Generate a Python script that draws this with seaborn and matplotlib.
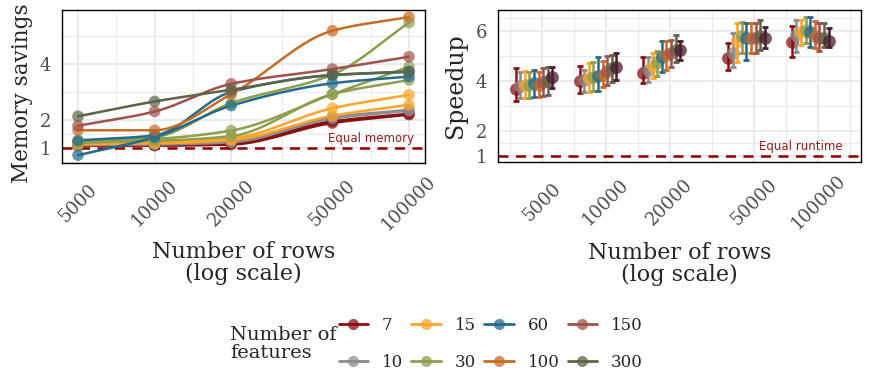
import numpy as np
import pandas as pd
import seaborn as sns
import matplotlib.pyplot as plt
import matplotlib.transforms as mtransforms
from matplotlib.lines import Line2D
from matplotlib.colors import to_rgba
from matplotlib.ticker import FixedLocator, NullFormatter

# --- data -------------------------------------------------------------
rows = [5000, 10000, 20000, 50000, 100000]
features = [7, 10, 15, 30, 60, 100, 150, 300]
palette = ["#8B1014", "#8C8C8C", "#FFA42B", "#8E9E4C",
           "#236B8E", "#C96B25", "#A0514B", "#5D6549"]
extra_color = "#4B1D2E"   # 9th series on the speedup panel (not in legend)

# memory savings, one line per row of the table (columns = rows)
mem_features = [7, 7, 10, 10, 15, 15, 30, 30, 30, 60, 60, 100, 150, 300]
mem_savings = np.array([
    [1.08, 1.08, 1.12, 1.89, 2.19],
    [1.10, 1.10, 1.16, 1.95, 2.22],
    [1.10, 1.12, 1.20, 2.05, 2.33],
    [1.12, 1.14, 1.24, 2.10, 2.36],
    [1.13, 1.16, 1.28, 2.15, 2.54],
    [1.16, 1.20, 1.34, 2.42, 2.90],
    [1.18, 1.25, 1.42, 2.92, 3.43],
    [1.22, 1.32, 1.62, 2.92, 3.90],
    [1.20, 1.38, 2.60, 3.62, 5.48],
    [0.74, 1.38, 2.51, 3.31, 3.55],
    [1.27, 1.45, 3.00, 3.60, 3.72],
    [1.63, 1.63, 2.92, 5.19, 5.68],
    [1.79, 2.30, 3.29, 3.82, 4.26],
    [2.13, 2.66, 3.08, 3.61, 3.73],
])

# speedup: rows of the table = number of rows, columns = series
speed_series = features + ["extra"]
speed_mean = np.array([
    [3.68, 3.80, 3.85, 3.85, 3.90, 3.85, 3.95, 4.00, 4.15],
    [4.00, 4.05, 4.10, 4.15, 4.20, 4.25, 4.40, 4.50, 4.55],
    [4.30, 4.45, 4.60, 4.75, 4.95, 5.05, 5.10, 5.25, 5.25],
    [4.93, 5.10, 5.60, 5.80, 5.70, 5.70, 5.70, 5.80, 5.70],
    [5.55, 5.85, 5.95, 6.05, 5.95, 5.80, 5.70, 5.70, 5.60],
])
speed_lo = np.array([
    [3.20, 3.30, 3.30, 3.30, 3.35, 3.35, 3.40, 3.45, 3.70],
    [3.50, 3.55, 3.55, 3.60, 3.60, 3.75, 3.85, 3.95, 4.05],
    [3.90, 3.95, 4.10, 4.20, 4.35, 4.45, 4.55, 4.75, 4.85],
    [4.45, 4.55, 4.75, 5.10, 4.85, 5.10, 5.10, 5.25, 5.30],
    [4.95, 5.15, 5.45, 5.50, 5.35, 5.30, 5.20, 5.35, 5.35],
])
speed_hi = np.array([
    [4.50, 4.35, 4.40, 4.35, 4.45, 4.35, 4.50, 4.55, 4.55],
    [4.60, 4.45, 4.70, 4.75, 4.95, 4.80, 5.00, 5.05, 5.10],
    [4.95, 4.95, 5.10, 5.20, 5.60, 5.60, 5.65, 5.85, 5.60],
    [5.50, 5.90, 6.30, 6.35, 6.30, 6.30, 6.30, 6.45, 6.15],
    [6.20, 6.45, 6.45, 6.55, 6.55, 6.40, 6.30, 6.30, 6.10],
])


def pchip(x, y, xn):
    """monotone cubic curve through the points, only used to draw the lines"""
    h = np.diff(x)
    d = np.diff(y) / h
    m = np.zeros_like(y)
    m[0], m[-1] = d[0], d[-1]
    for k in range(1, len(x) - 1):
        if d[k - 1] * d[k] > 0:
            w1 = 2 * h[k] + h[k - 1]
            w2 = h[k] + 2 * h[k - 1]
            m[k] = (w1 + w2) / (w1 / d[k - 1] + w2 / d[k])
    idx = np.clip(np.searchsorted(x, xn) - 1, 0, len(x) - 2)
    t = (xn - x[idx]) / h[idx]
    h00 = 2 * t**3 - 3 * t**2 + 1
    h10 = t**3 - 2 * t**2 + t
    h01 = -2 * t**3 + 3 * t**2
    h11 = t**3 - t**2
    return (h00 * y[idx] + h10 * h[idx] * m[idx]
            + h01 * y[idx + 1] + h11 * h[idx] * m[idx + 1])


def style_axes(ax, xlim, ylim, yticks, yminor):
    ax.set_xscale("log")
    ax.set_xlim(*xlim)
    ax.set_ylim(*ylim)
    ax.set_xticks(rows)
    ax.set_xticklabels([str(r) for r in rows], rotation=45, ha="center", va="center")
    lr = np.log10(rows)
    mid = np.r_[lr[0] - (lr[1] - lr[0]) / 2, (lr[:-1] + lr[1:]) / 2, lr[-1] + (lr[1] - lr[0]) / 2]
    ax.xaxis.set_minor_locator(FixedLocator(10 ** mid))
    ax.xaxis.set_minor_formatter(NullFormatter())
    ax.set_yticks(yticks)
    ax.yaxis.set_minor_locator(FixedLocator(yminor))
    ax.grid(which="major", color="#EBEBEB", lw=1.4)
    ax.grid(which="minor", color="#EBEBEB", lw=0.8)
    ax.set_axisbelow(True)
    ax.tick_params(which="both", length=0, labelsize=13, labelcolor="#4D4D4D")
    ax.tick_params(axis="x", pad=29)
    ax.tick_params(axis="y", pad=8)
    for sp in ax.spines.values():
        sp.set_visible(True)
        sp.set_color("black")
        sp.set_linewidth(1.0)
    ax.set_xlabel("Number of rows\n(log scale)", fontsize=16, linespacing=1.0)


sns.set_theme(style="white")
plt.rcParams["font.family"] = ["DejaVu Serif"]

fig = plt.figure(figsize=(8.72, 3.87), dpi=100)
ax1 = fig.add_axes([0.0711, 0.5788, 0.4163, 0.3953])
ax2 = fig.add_axes([0.5711, 0.5814, 0.4163, 0.3928])
colors = dict(zip(features, palette))

# --- memory savings panel ---------------------------------------------
mem_df = pd.DataFrame(mem_savings, columns=rows)
mem_df["features"] = mem_features
mem_long = mem_df.melt(id_vars="features", var_name="rows", value_name="savings")

ax1.axhline(1, color="#8B0000", lw=1.8, ls=(0, (4, 3)), zorder=1)
lx = np.log10(rows)
xs = np.linspace(lx[0], lx[-1], 200)
for f, vals in zip(mem_features, mem_savings):
    ax1.plot(10 ** xs, pchip(lx, vals, xs), color=colors[f], lw=1.8, zorder=2)
sns.scatterplot(data=mem_long, x="rows", y="savings", hue="features", palette=colors,
                s=70, alpha=0.7, linewidth=0, legend=False, ax=ax1, zorder=3)
style_axes(ax1, (4325, 115600), (0.46, 5.93), [1, 2, 4], [0.5, 1.5, 3, 5])
ax1.set_ylabel("Memory savings", fontsize=15.5)
ax1.yaxis.set_label_coords(-0.08, 0.455)
ax1.xaxis.set_label_coords(0.5, -0.51)
tr1 = mtransforms.blended_transform_factory(ax1.transAxes, ax1.transData)
ax1.text(0.97, 1.1, "Equal memory", transform=tr1, ha="right", va="bottom",
         fontsize=8.5, color="#9B1B1B", family=["DejaVu Sans"])

# --- speedup panel -----------------------------------------------------
ax2.axhline(1, color="#8B0000", lw=1.8, ls=(0, (4, 3)), zorder=1)
all_colors = palette + [extra_color]
for j, name in enumerate(speed_series):
    shift = 2 ** ((j - 4) * 0.072 - 0.125)
    xd = np.array(rows) * shift
    sns.scatterplot(x=xd, y=speed_mean[:, j], color=all_colors[j], s=85, alpha=0.75,
                    linewidth=0, legend=False, ax=ax2, zorder=3 + j)
    ax2.errorbar(xd, speed_mean[:, j],
                 yerr=[speed_mean[:, j] - speed_lo[:, j], speed_hi[:, j] - speed_mean[:, j]],
                 fmt="none", ecolor=all_colors[j], elinewidth=1.8, capsize=2.4,
                 capthick=2.0, zorder=3 + j)
style_axes(ax2, (3100, 159000), (0.76, 6.84), [1, 2, 4, 6], [1.5, 3, 5, 6.5])
ax2.set_ylabel("Speedup", fontsize=17)
ax2.yaxis.set_label_coords(-0.085, 0.5)
ax2.xaxis.set_label_coords(0.5, -0.525)
tr2 = mtransforms.blended_transform_factory(ax2.transAxes, ax2.transData)
ax2.text(0.95, 1.1, "Equal runtime", transform=tr2, ha="right", va="bottom",
         fontsize=8.5, color="#9B1B1B", family=["DejaVu Sans"])

# --- legend ------------------------------------------------------------
handles = [Line2D([], [], color=colors[f], lw=2, marker="o", markersize=8,
                  markerfacecolor=to_rgba(colors[f], 0.75), markeredgewidth=0)
           for f in features]
fig.legend(handles, [str(f) for f in features], ncol=4, frameon=False,
           loc="center left", bbox_to_anchor=(0.371, 0.112), fontsize=12,
           handlelength=1.75, handletextpad=0.85, columnspacing=0.5,
           labelspacing=1.2)
fig.text(0.264, 0.112, "Number of\nfeatures", ha="left", va="center",
         fontsize=14, linespacing=1.0)

fig.savefig("out.png", dpi=100)
